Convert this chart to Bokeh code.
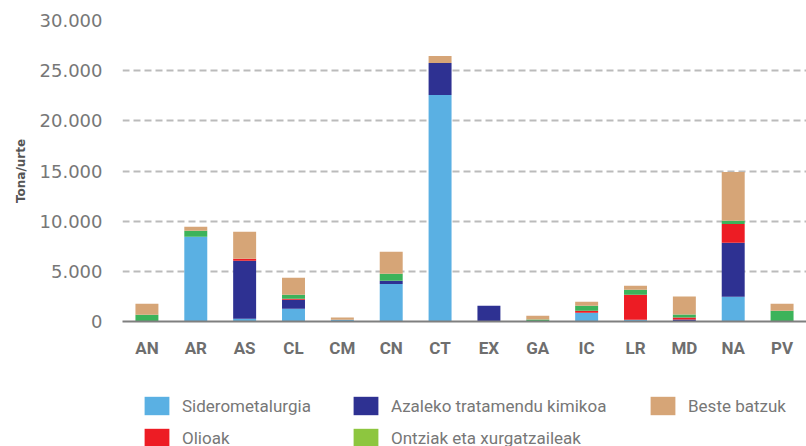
from bokeh.plotting import figure
from bokeh.layouts import column
from bokeh.models import (FactorRange, Range1d, SingleIntervalTicker, CustomJSTickFormatter,
                          Legend, LegendItem, ColumnDataSource)
from bokeh.embed import file_html
from bokeh.resources import INLINE

categories = ["AN", "AR", "AS", "CL", "CM", "CN", "CT", "EX", "GA", "IC", "LR", "MD", "NA", "PV"]
siderometalurgia = [0, 8440, 270, 1270, 180, 3750, 22580, 0, 0, 870, 170, 50, 2460, 0]
azaleko = [0, 0, 5780, 900, 0, 300, 3190, 1560, 0, 0, 0, 150, 5380, 0]
olioak = [0, 0, 200, 100, 0, 0, 0, 0, 0, 200, 2490, 200, 1890, 0]
ontziak = [670, 600, 0, 390, 0, 700, 0, 0, 200, 500, 500, 300, 300, 1070]
beste = [1090, 400, 2690, 1690, 230, 2190, 700, 0, 370, 400, 400, 1800, 4880, 700]

series_keys = ["sidero", "azaleko", "olioak", "ontziak", "beste"]
series_names = ["Siderometalurgia", "Azaleko tratamendu kimikoa", "Olioak",
                "Ontziak eta xurgatzaileak", "Beste batzuk"]
bar_colors = ["#5AB0E3", "#2E3192", "#ED1C24", "#3CB35A", "#D6A577"]
legend_colors = ["#5AB0E3", "#2E3192", "#ED1C24", "#8DC63F", "#D6A577"]
# legend placement (pixels relative to the legend panel's bottom-left)
legend_pos = {0: (19, 29), 1: (228, 29), 4: (525, 29), 2: (19, -3), 3: (228, -3)}

source = ColumnDataSource(dict(cat=categories, sidero=siderometalurgia, azaleko=azaleko,
                               olioak=olioak, ontziak=ontziak, beste=beste))

p = figure(x_range=FactorRange(*categories), y_range=Range1d(0, 30000),
           width=806, height=360, output_backend="svg", toolbar_location=None,
           min_border_left=122, min_border_top=20, min_border_right=0, min_border_bottom=38)

p.vbar_stack(series_keys, x="cat", width=0.47, fill_color=bar_colors, line_color=None,
             source=source)

p.outline_line_color = None
p.xgrid.grid_line_color = None
p.ygrid.grid_line_color = "#bbbbbb"
p.ygrid.grid_line_width = 2
p.ygrid.grid_line_dash = "7 4"

p.yaxis.ticker = SingleIntervalTicker(interval=5000)
p.yaxis.formatter = CustomJSTickFormatter(code="""
return Math.round(tick).toString().replace(/\\B(?=(\\d{3})+(?!\\d))/g, ".");
""")
p.yaxis.axis_line_color = None
p.yaxis.major_tick_line_color = None
p.yaxis.minor_tick_line_color = None
p.yaxis.major_label_text_font = "DejaVu Sans"
p.yaxis.major_label_text_font_size = "18px"
p.yaxis.major_label_text_color = "#777777"
p.yaxis.major_label_standoff = 14
p.yaxis.axis_label = "Tona/urte"
p.yaxis.axis_label_text_font = "DejaVu Sans"
p.yaxis.axis_label_text_font_size = "12px"
p.yaxis.axis_label_text_font_style = "bold"
p.yaxis.axis_label_text_color = "#555555"
p.yaxis.axis_label_standoff = 9

p.xaxis.axis_line_color = "#7f7f7f"
p.xaxis.axis_line_width = 2
p.xaxis.major_tick_line_color = None
p.xaxis.minor_tick_line_color = None
p.xaxis.major_label_text_font = "Roboto"
p.xaxis.major_label_text_font_size = "17px"
p.xaxis.major_label_text_font_style = "bold"
p.xaxis.major_label_text_color = "#6e6e6e"
p.xaxis.major_label_standoff = 10

# legend panel
lf = figure(width=806, height=86, output_backend="svg", toolbar_location=None,
            x_range=FactorRange(*categories), y_range=Range1d(0, 1),
            min_border=0, min_border_left=122, outline_line_color=None)
lf.axis.visible = False
lf.grid.visible = False
dummies = []
for c in legend_colors:
    r = lf.vbar(x=[categories[0]], top=[0], bottom=[0], width=0.5, fill_color=c, line_color=None)
    dummies.append(r)

for i in [0, 1, 4, 2, 3]:
    lg = Legend(items=[LegendItem(label=series_names[i], renderers=[dummies[i]])],
                location=legend_pos[i], orientation="horizontal",
                glyph_width=31, glyph_height=23, label_standoff=10, spacing=0,
                label_text_font="Roboto", label_text_font_size="17px",
                label_text_color="#777777", label_text_baseline="middle",
                border_line_color=None, background_fill_alpha=0, padding=0, margin=0)
    lf.add_layout(lg)

layout = column(p, lf, spacing=0)
open("out.html", "w").write(file_html(layout, INLINE))
